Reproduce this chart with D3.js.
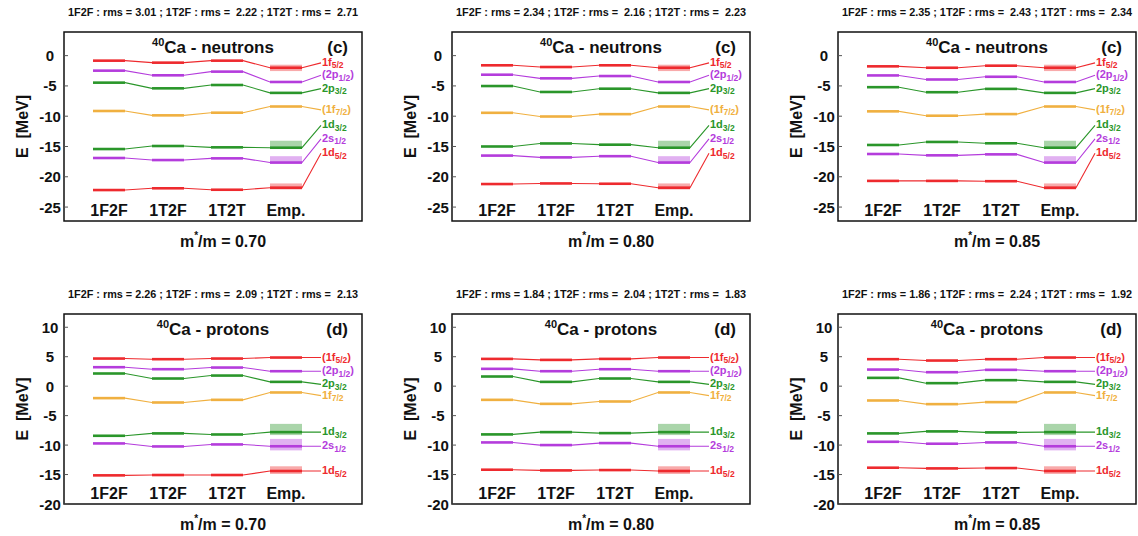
<!DOCTYPE html>
<html><head><meta charset="utf-8">
<script src="https://cdn.jsdelivr.net/npm/d3@7"></script>
<style>
body{margin:0;background:#fff;}
text{font-family:"Liberation Sans",Arial,sans-serif;font-weight:bold;fill:#111;}
</style></head>
<body><svg id="c" width="1138" height="536"></svg>
<script>
const categories = ["1F2F","1T2F","1T2T","Emp."];
const massRatios = ["0.70","0.80","0.85"];
const levelColors = ["#ee2a2e","#b43cdc","#2a962a","#f0b040","#2a962a","#b43cdc","#ee2a2e"];
const neutronLabels = [["1f","5/2",""],["(2p","1/2",")"],["2p","3/2",""],["(1f","7/2",")"],["1d","3/2",""],["2s","1/2",""],["1d","5/2",""]];
const protonLabels  = [["(1f","5/2",")"],["(2p","1/2",")"],["2p","3/2",""],["1f","7/2",""],["1d","3/2",""],["2s","1/2",""],["1d","5/2",""]];

// model values (1F2F, 1T2F, 1T2T) per level
const n070 = [[-0.83,-1.16,-0.83],[-2.48,-3.25,-2.64],[-4.46,-5.4,-4.85],[-9.14,-9.86,-9.42],[-15.42,-14.92,-15.14],[-16.9,-17.24,-16.96],[-22.19,-21.9,-22.14]];
const n080 = [[-1.6,-1.88,-1.6],[-3.15,-3.75,-3.37],[-5.02,-6.0,-5.46],[-9.44,-10.05,-9.66],[-15.0,-14.5,-14.7],[-16.5,-16.8,-16.6],[-21.2,-21.1,-21.15]];
const n085 = [[-1.77,-2.0,-1.66],[-3.27,-3.94,-3.49],[-5.21,-6.04,-5.49],[-9.2,-9.92,-9.65],[-14.75,-14.25,-14.47],[-16.24,-16.46,-16.3],[-20.68,-20.68,-20.73]];
const nEmp = [-2.0,-4.35,-6.15,-8.4,-15.2,-17.65,-21.8];
const nLabelY = [-1.2,-3.25,-5.45,-8.95,-11.5,-13.75,-16.1];
const nBands = [[-1.5,-2.55],null,null,null,[-14.05,-15.4],[-16.6,-17.85],[-21.1,-22.1]];

const p070 = [[4.69,4.58,4.69],[3.22,2.88,3.16],[2.15,1.3,1.8],[-2.03,-2.77,-2.32],[-8.42,-8.02,-8.2],[-9.72,-10.23,-9.89],[-15.14,-15.08,-15.08]];
const p080 = [[4.63,4.46,4.63],[2.94,2.54,2.88],[1.64,0.73,1.3],[-2.32,-3.0,-2.6],[-8.19,-7.8,-7.97],[-9.55,-10.0,-9.66],[-14.18,-14.3,-14.24]];
const p085 = [[4.58,4.35,4.58],[2.82,2.37,2.77],[1.41,0.51,1.02],[-2.43,-3.05,-2.71],[-8.02,-7.68,-7.85],[-9.44,-9.77,-9.55],[-13.84,-13.96,-13.9]];
const pEmp = [4.86,2.54,0.73,-1.07,-7.8,-10.2,-14.4];
const pLabelY = [4.86,2.54,0.3,-1.6,-7.8,-10.2,-14.4];
const pBands = [null,null,null,null,[-6.4,-8.3],[-8.95,-10.9],[-13.6,-14.9]];

const nRms = [["3.01","2.22","2.71"],["2.34","2.16","2.23"],["2.35","2.43","2.34"]];
const pRms = [["2.26","2.09","2.13"],["1.84","2.04","1.83"],["1.86","2.24","1.92"]];
const nTicks = [0,-5,-10,-15,-20,-25];
const pTicks = [10,5,0,-5,-10,-15,-20];

const svg = d3.select("#c");
const lefts = [64,452,838];
const W = 298;

function panel(left, top, bottom, domain, ticks, model, emp, labelY, bands, labels, rms, mass, nucl, tag){
  const g = svg.append("g").attr("transform",`translate(${left},0)`);
  const y = d3.scaleLinear().domain(domain).range([bottom, top]);
  const x = d3.scalePoint().domain(categories).range([45,222]);
  const hw = 16, labX = 257;
  // rms header
  g.append("text").attr("x",W/2).attr("y",top-16).attr("text-anchor","middle")
    .attr("textLength",290).attr("lengthAdjust","spacingAndGlyphs")
    .style("font-size","10px").style("white-space","pre")
    .text(`1F2F : rms = ${rms[0]} ; 1T2F : rms =  ${rms[1]} ; 1T2T : rms =  ${rms[2]}`);
  // bands
  bands.forEach((b,i)=>{ if(!b) return;
    g.append("rect").attr("x",x("Emp.")-hw).attr("width",2*hw)
     .attr("y",y(b[0])).attr("height",y(b[1])-y(b[0]))
     .attr("fill",levelColors[i]).attr("opacity",0.4);
  });
  // levels
  model.forEach((vals,i)=>{
    const all = vals.concat([emp[i]]);
    const pts = [];
    all.forEach((v,k)=>{ pts.push([x(categories[k])-hw,v]); pts.push([x(categories[k])+hw,v]); });
    pts.push([labX,labelY[i]]);
    const line = d3.line().x(d=>d[0]).y(d=>y(d[1]));
    g.append("path").attr("d",line(pts)).attr("fill","none")
      .attr("stroke",levelColors[i]).attr("stroke-width",1.1);
    all.forEach((v,k)=>{
      g.append("line").attr("x1",x(categories[k])-hw).attr("x2",x(categories[k])+hw)
       .attr("y1",y(v)).attr("y2",y(v)).attr("stroke",levelColors[i]).attr("stroke-width",2.6);
    });
    const t = g.append("text").attr("x",labX+1).attr("y",y(labelY[i])+3)
      .style("font-size","11px").style("fill",levelColors[i]);
    t.append("tspan").text(labels[i][0]);
    t.append("tspan").attr("dy",2.5).style("font-size","8.5px").text(labels[i][1]);
    if(labels[i][2]) t.append("tspan").attr("dy",-2.5).text(labels[i][2]);
  });
  // frame
  g.append("rect").attr("x",0).attr("y",top).attr("width",W).attr("height",bottom-top)
    .attr("fill","none").attr("stroke","#111").attr("stroke-width",1.5);
  // y ticks
  ticks.forEach(v=>{
    g.append("line").attr("x1",0).attr("x2",4).attr("y1",y(v)).attr("y2",y(v)).attr("stroke","#555").attr("stroke-width",1);
    g.append("text").attr("x",-14).attr("y",y(v)+5.5).attr("text-anchor","middle")
      .style("font-size","15px").text(v);
  });
  // category labels
  categories.forEach(c=>{
    g.append("text").attr("x",x(c)).attr("y",bottom-5).attr("text-anchor","middle")
      .style("font-size","16px").text(c);
  });
  // title
  const tt = g.append("text").attr("x",W/2).attr("y",top+21).attr("text-anchor","middle").style("font-size","17px");
  tt.append("tspan").attr("dy",-7).style("font-size","11px").text("40");
  tt.append("tspan").attr("dy",7).text(`Ca - ${nucl}`);
  g.append("text").attr("x",W-14).attr("y",top+21).attr("text-anchor","end").style("font-size","17px").text(tag);
  // y axis title
  g.append("text").attr("transform",`translate(${-36},${(top+bottom)/2}) rotate(-90)`)
    .attr("text-anchor","middle").style("font-size","16px").style("white-space","pre").text("E  [MeV]");
  // x axis title
  const xt = g.append("text").attr("x",W/2+10).attr("y",bottom+26).attr("text-anchor","middle").style("font-size","16px");
  xt.append("tspan").text("m");
  xt.append("tspan").attr("dy",-8).style("font-size","10px").text("*");
  xt.append("tspan").attr("dy",8).text(`/m = ${mass}`);
}

const nModels = [n070,n080,n085], pModels = [p070,p080,p085];
for(let i=0;i<3;i++){
  panel(lefts[i],32,221,[-27.3,3.9],nTicks,nModels[i],nEmp,nLabelY,nBands,neutronLabels,nRms[i],massRatios[i],"neutrons","(c)");
  panel(lefts[i],314,504,[-20,12.25],pTicks,pModels[i],pEmp,pLabelY,pBands,protonLabels,pRms[i],massRatios[i],"protons","(d)");
}
</script></body></html>
